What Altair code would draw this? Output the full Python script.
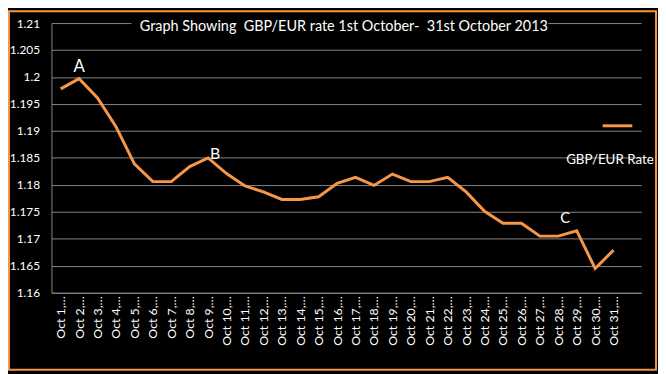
import altair as alt
import pandas as pd

days = [f"Oct {d},…" for d in range(1, 32)]
rates = [1.1978, 1.1997, 1.1961, 1.1908, 1.1839, 1.1806, 1.1806, 1.1834, 1.1850,
         1.1821, 1.1798, 1.1787, 1.1773, 1.1773, 1.1778, 1.1803, 1.1814, 1.1799,
         1.1820, 1.1806, 1.1806, 1.1814, 1.1787, 1.1751, 1.1729, 1.1729, 1.1705,
         1.1705, 1.1715, 1.1645, 1.1679]

ann_labels = ["A", "B", "C"]
ann_days = ["Oct 2,…", "Oct 9,…", "Oct 28,…"]
ann_values = [1.2018, 1.1857, 1.1738]
ann_dx = [0, 7, 7]
ann_size = [17, 16, 15]

y_ticks = [1.16, 1.165, 1.17, 1.175, 1.18, 1.185, 1.19, 1.195, 1.2, 1.205, 1.21]
title_text = "Graph Showing\u00a0\u00a0GBP/EUR rate 1st October-\u00a0\u00a031st October 2013"
legend_text = "GBP/EUR Rate"

ORANGE = "#F79646"
GRID = "#868686"
FONT = "Lato"

df = pd.DataFrame({"day": days, "rate": rates})
x_domain = days + [" "]
x_scale = alt.Scale(type="point", domain=x_domain, padding=0.5)
y_scale = alt.Scale(domain=[1.16, 1.21], nice=False, zero=False)

x = alt.X("day:O", sort=None, scale=x_scale,
          axis=alt.Axis(title=None, labelAngle=-90, labelColor="white", labelFont=FONT,
                        labelFontSize=12.5, labelPadding=3, ticks=False, domainColor=GRID,
                        grid=False, labelOverlap=False))
y = alt.Y("rate:Q", scale=y_scale,
          axis=alt.Axis(title=None, values=y_ticks, format=".3~f", labelColor="white",
                        labelFont=FONT, labelFontSize=12, labelPadding=12, ticks=False,
                        domainColor=GRID, gridColor=GRID, gridWidth=1, labelOverlap=False))

line = alt.Chart(df).mark_line(color=ORANGE, strokeWidth=3).encode(x=x, y=y)

# black box behind the title (interrupts top gridline)
title_bg = alt.Chart(pd.DataFrame({"t": [title_text]})).mark_rect(color="black").encode(
    x=alt.value(81), x2=alt.value(503), y=alt.value(-7), y2=alt.value(12))
title = alt.Chart(pd.DataFrame({"t": [title_text]})).mark_text(
    color="white", font=FONT, fontSize=14.6, align="center", baseline="middle").encode(
    x=alt.value(296), y=alt.value(4), text="t:N")

ann_layers = []
for lab, d, v, dx, sz in zip(ann_labels, ann_days, ann_values, ann_dx, ann_size):
    adf = pd.DataFrame({"day": [d], "rate": [v], "lab": [lab]})
    ann_layers.append(
        alt.Chart(adf).mark_text(color="white", font=FONT, fontSize=sz, dx=dx,
                                 align="center", baseline="middle").encode(
            x=x, y=y, text="lab:N"))

leg_line = alt.Chart(pd.DataFrame({"t": [legend_text]})).mark_rule(
    color=ORANGE, strokeWidth=3).encode(x=alt.value(558), x2=alt.value(588), y=alt.value(104))
leg_text = alt.Chart(pd.DataFrame({"t": [legend_text]})).mark_text(
    color="white", font=FONT, fontSize=13.5, align="left", baseline="middle").encode(
    x=alt.value(521), y=alt.value(139), text="t:N")

border = alt.Chart(pd.DataFrame({"t": [legend_text]})).mark_rect(
    filled=False, stroke=ORANGE, strokeWidth=2).encode(
    x=alt.value(-43), x2=alt.value(612), y=alt.value(-12), y2=alt.value(351))

chart = alt.layer(title_bg, line, title, *ann_layers, leg_line, leg_text, border).properties(
    width=597, height=273, background="black",
    padding={"left": 44, "top": 13, "right": 17, "bottom": 80},
    autosize=alt.AutoSizeParams(type="none"),
).configure_view(stroke=None)

chart.save("out.html", embed_options={"renderer": "svg", "actions": False})
